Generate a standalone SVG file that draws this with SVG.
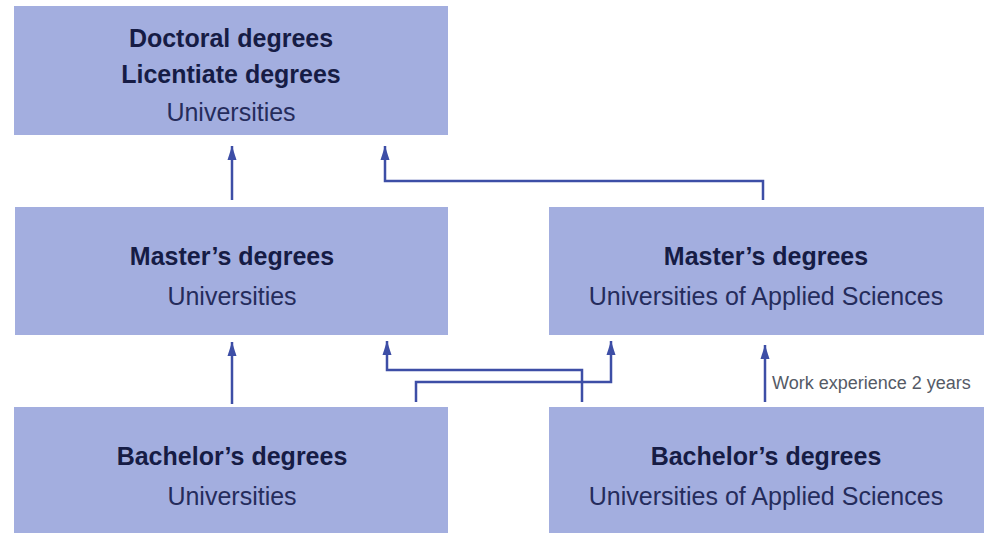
<svg xmlns="http://www.w3.org/2000/svg" width="984" height="533" viewBox="0 0 984 533">
<style>
.box{fill:#a3aedf;}
.b{font-family:"Liberation Sans",Arial,sans-serif;font-weight:bold;font-size:25px;fill:#161c45;text-anchor:middle;}
.r{font-family:"Liberation Sans",Arial,sans-serif;font-size:25px;fill:#252c5c;text-anchor:middle;}
.c{fill:none;stroke:#3d4ea6;stroke-width:2.5;}
.lbl{font-family:"Liberation Sans",Arial,sans-serif;font-size:18px;fill:#555a66;}
</style>
<defs>
<marker id="ah" markerUnits="userSpaceOnUse" markerWidth="16" markerHeight="12" viewBox="0 0 16 12" refX="15" refY="6" orient="auto">
<path d="M15 6 L1 1.5 L1 10.5 Z" fill="#3d4ea6"/>
</marker>
</defs>
<g id="n-doctoral">
<rect class="box" x="14" y="6" width="434" height="129"/>
<text class="b" x="231" y="47">Doctoral degrees</text>
<text class="b" x="231" y="83">Licentiate degrees</text>
<text class="r" x="231" y="121">Universities</text>
</g>
<g id="n-master-u">
<rect class="box" x="15" y="207" width="433" height="128"/>
<text class="b" x="232" y="265">Master’s degrees</text>
<text class="r" x="232" y="305">Universities</text>
</g>
<g id="n-master-uas">
<rect class="box" x="549" y="207" width="435" height="128"/>
<text class="b" x="766" y="265">Master’s degrees</text>
<text class="r" x="766" y="305">Universities of Applied Sciences</text>
</g>
<g id="n-bachelor-u">
<rect class="box" x="14" y="407" width="434" height="126"/>
<text class="b" x="232" y="465">Bachelor’s degrees</text>
<text class="r" x="232" y="505">Universities</text>
</g>
<g id="n-bachelor-uas">
<rect class="box" x="549" y="407" width="435" height="126"/>
<text class="b" x="766" y="465">Bachelor’s degrees</text>
<text class="r" x="766" y="505">Universities of Applied Sciences</text>
</g>
<g id="connectors">
<path class="c" d="M232 200 V146" marker-end="url(#ah)"/>
<path class="c" d="M763 200 V181 H385 V146" marker-end="url(#ah)"/>
<path class="c" d="M232 404 V342" marker-end="url(#ah)"/>
<path class="c" d="M582 402 V370 H387 V341" marker-end="url(#ah)"/>
<path class="c" d="M416 402 V382 H611 V341" marker-end="url(#ah)"/>
<path class="c" d="M765 402 V345" marker-end="url(#ah)"/>
<text class="lbl" x="772" y="389">Work experience 2 years</text>
</g>
</svg>
